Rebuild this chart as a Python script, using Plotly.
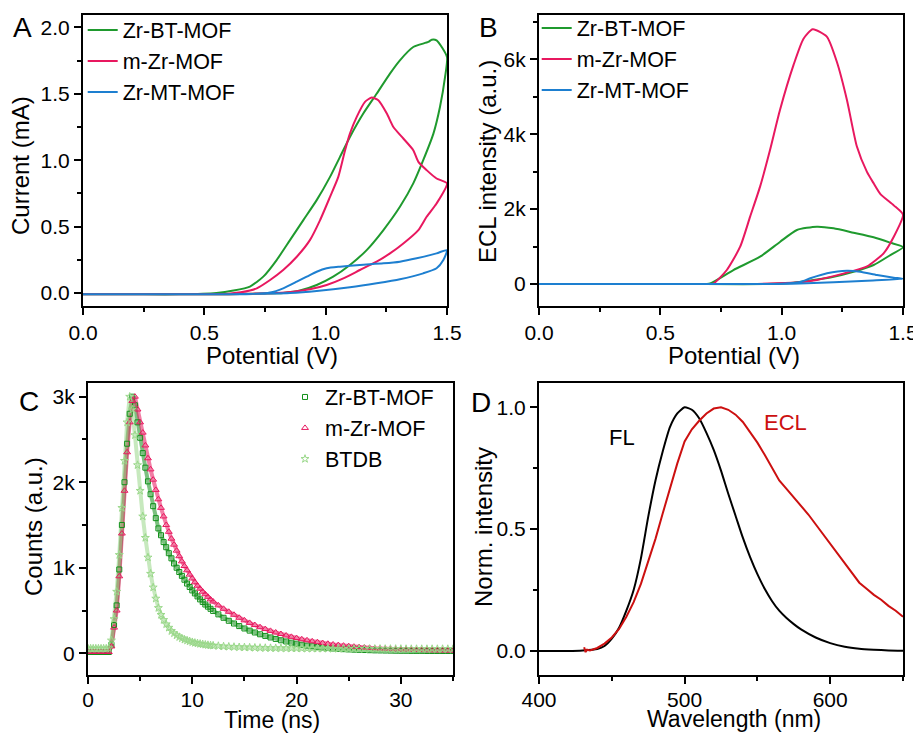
import numpy as np
import plotly.graph_objects as go

FONT = "Liberation Sans, Arial, Helvetica, sans-serif"
W, H = 921, 733
OFF = 8  # the page body offsets the figure by this many pixels

GREEN = "#1f9a2e"
PINK = "#e8185f"
BLUE = "#1d7fd0"
DKGREEN = "#12901a"
LTGREEN = "#9ad88a"
RED = "#cc1010"

# ---------------- Panel A: CV (potential V, current mA) ----------------
a_bt_v = [0, 0.2, 0.4, 0.6, 0.7, 0.8, 0.825, 0.894, 0.963, 1.031, 1.100, 1.169, 1.238, 1.306, 1.361,
          1.402, 1.444, 1.471, 1.492, 1.5,
          1.457, 1.437, 1.423, 1.361, 1.306, 1.265, 1.21, 1.155, 1.100, 1.059, 1.018, 0.963, 0.908,
          0.853, 0.798, 0.743, 0.688, 0.62, 0.55, 0.4, 0.2, 0.0]
a_bt_i = [-0.01, -0.01, -0.01, -0.01, -0.005, -0.002, 0.0, 0.018, 0.060, 0.123, 0.211, 0.323, 0.474, 0.649, 0.825,
          1.0, 1.20, 1.40, 1.627, 1.777,
          1.902, 1.907, 1.89, 1.852, 1.752, 1.652, 1.50, 1.351, 1.175, 1.025, 0.874, 0.699, 0.549,
          0.398, 0.248, 0.123, 0.048, 0.018, 0.0, -0.01, -0.01, -0.01]

a_m_v = [0, 0.2, 0.4, 0.6, 0.7, 0.80, 0.867, 0.935, 1.004, 1.073, 1.141, 1.21, 1.265, 1.32, 1.382, 1.416, 1.457, 1.5,
         1.457, 1.416, 1.382, 1.361, 1.32, 1.279, 1.252, 1.217, 1.19, 1.162, 1.128, 1.100, 1.080, 1.052, 1.018,
         0.977, 0.935, 0.881, 0.825, 0.771, 0.716, 0.688, 0.65, 0.6, 0.4, 0.2, 0]
a_m_i = [-0.01, -0.01, -0.01, -0.01, -0.005, 0.0, 0.01, 0.028, 0.06, 0.11, 0.173, 0.236, 0.298, 0.373, 0.474, 0.574, 0.674, 0.825,
         0.862, 0.925, 0.987, 1.075, 1.163, 1.25, 1.351, 1.451, 1.471, 1.439, 1.326, 1.20, 1.075, 0.874, 0.724,
         0.549, 0.398, 0.273, 0.173, 0.098, 0.035, 0.018, 0.005, -0.005, -0.01, -0.01, -0.01]

a_mt_v = [0, 0.2, 0.4, 0.6, 0.75, 0.853, 0.963, 1.1, 1.21, 1.306, 1.402, 1.457, 1.485, 1.5,
          1.457, 1.375, 1.306, 1.238, 1.141, 1.059, 1.004, 0.963, 0.922, 0.881, 0.825, 0.771, 0.7, 0.6, 0.4, 0.2, 0]
a_mt_i = [-0.01, -0.01, -0.01, -0.01, -0.005, 0.0, 0.015, 0.043, 0.073, 0.103, 0.148, 0.186, 0.248, 0.323,
          0.298, 0.261, 0.236, 0.223, 0.211, 0.198, 0.186, 0.16, 0.123, 0.085, 0.035, 0.003, -0.008, -0.01, -0.01, -0.01, -0.01]

# ---------------- Panel B: ECL-potential ----------------
b_bt_v = [0, 0.3, 0.6, 0.66, 0.705, 0.801, 0.911, 0.994, 1.063, 1.145, 1.214, 1.296, 1.379, 1.448, 1.5,
          1.448, 1.379, 1.296, 1.214, 1.131, 1.049, 0.94, 0.6, 0.3, 0]
b_bt_i = [0, 0, 0, 0, 15, 374, 729, 1130, 1442, 1530, 1487, 1370, 1247, 1103, 985,
          774, 507, 329, 196, 107, 36, 0, 0, 0, 0]

b_m_v = [0, 0.3, 0.6, 0.69, 0.718, 0.774, 0.829, 0.870, 0.911, 0.952, 0.993, 1.049, 1.09, 1.128, 1.186, 1.227,
         1.269, 1.31, 1.351, 1.379, 1.407, 1.462, 1.5,
         1.462, 1.42, 1.352, 1.283, 1.214, 1.145, 1.076, 0.98, 0.87, 0.6, 0.3, 0]
b_m_i = [0, 0, 0, 0, 10, 374, 996, 1798, 2600, 3579, 4647, 5850, 6550, 6801, 6605, 5940,
         4914, 3670, 3000, 2688, 2400, 2100, 1850,
         1263, 820, 470, 330, 210, 110, 50, 18, 0, 0, 0, 0]

b_mt_v = [0, 0.3, 0.6, 0.9, 0.98, 1.104, 1.214, 1.352, 1.5,
          1.462, 1.393, 1.324, 1.269, 1.187, 1.118, 1.076, 1.0, 0.9, 0.6, 0.3, 0]
b_mt_i = [0, 0, 0, 0, 0, 18, 45, 89, 138,
          169, 240, 329, 356, 285, 152, 56, 10, 0, 0, 0, 0]

# ---------------- Panel C: TRPL decay ----------------
c_time = [round(0.25 * k, 2) for k in range(0, 49)] + [round(12.5 + 0.5 * k, 2) for k in range(0, 46)]

c_bt = [15] * 9 + [
    100, 330, 560, 980, 1500, 2000, 2450, 2800, 3000, 2900,
    2700, 2520, 2340, 2170, 2010, 1860, 1720, 1580, 1460, 1380,
    1300, 1240, 1170, 1110, 1050, 1000, 950, 905, 860, 815,
    775, 735, 700, 665, 630, 600, 570, 545, 520, 495,
    455, 415, 380, 348, 318, 290, 265, 243, 222, 203,
    185, 168, 152, 138, 124, 112, 100, 90, 82, 74,
    67, 61, 56, 52, 48, 45, 42, 40, 38, 36,
    34, 33, 32, 31, 30, 29, 29, 28, 28, 28,
    27, 27, 27, 27, 27, 27]

c_m = [15] * 9 + [
    80, 300, 500, 900, 1400, 1900, 2350, 2700, 2950, 3000,
    2850, 2700, 2580, 2430, 2280, 2150, 2030, 1910, 1800, 1700,
    1600, 1500, 1420, 1340, 1270, 1200, 1135, 1075, 1020, 970,
    920, 875, 830, 790, 755, 720, 690, 660, 630, 605,
    560, 520, 485, 450, 415, 385, 355, 330, 305, 283,
    262, 243, 225, 208, 192, 178, 164, 152, 140, 130,
    120, 111, 103, 96, 89, 83, 77, 72, 67, 62,
    58, 55, 52, 49, 46, 44, 42, 40, 38, 37,
    36, 35, 34, 33, 32, 31]

c_btdb = [55] * 8 + [60] + [
    150, 400, 720, 1150, 1700, 2250, 2700, 3000, 2850, 2550,
    2200, 1900, 1600, 1350, 1120, 930, 770, 640, 530, 450,
    390, 340, 300, 260, 235, 210, 190, 175, 160, 150,
    140, 130, 122, 116, 110, 105, 100, 96, 92, 90,
    85, 80, 77, 74, 71, 69, 67, 65, 63, 62,
    61, 60, 59, 58, 58, 57, 57, 56, 56, 55,
    55, 55, 54, 54, 54, 53, 53, 53, 52, 52,
    52, 52, 51, 51, 51, 51, 50, 50, 50, 50,
    50, 50, 50, 50, 50, 50]

# ---------------- Panel D: normalized spectra ----------------
d_fl_wl = [400, 410, 420, 430, 440, 445, 450, 455, 460, 465, 470, 475, 480, 485, 490, 495, 500, 505, 510,
           515, 520, 525, 530, 535, 540, 545, 550, 555, 560, 565, 570, 575, 580, 590, 600, 610, 620, 630, 640, 650]
d_fl = [0, 0, 0, 0.002, 0.008, 0.02, 0.05, 0.095, 0.165, 0.25, 0.38, 0.55, 0.70, 0.82, 0.92, 0.975, 1.0, 0.99, 0.955,
        0.895, 0.825, 0.74, 0.645, 0.555, 0.465, 0.385, 0.315, 0.255, 0.205, 0.165, 0.135, 0.11, 0.088, 0.055, 0.032,
        0.017, 0.009, 0.005, 0.002, 0.001]

d_ecl_wl = [431, 432, 433, 435, 440, 445, 450, 455, 460, 465, 470, 475, 480, 485, 490, 495, 500, 505, 510, 515,
            520, 525, 530, 535, 540, 545, 550, 555, 560, 565, 570, 575, 580, 585, 590, 595, 600, 605, 610, 615,
            620, 625, 630, 635, 640, 645, 650]
d_ecl = [0.015, -0.005, 0.005, 0.002, 0.012, 0.03, 0.055, 0.09, 0.14, 0.2, 0.275, 0.365, 0.46, 0.565, 0.67, 0.77,
         0.86, 0.91, 0.945, 0.975, 0.995, 1.0, 0.99, 0.97, 0.94, 0.9, 0.855, 0.805, 0.75, 0.7, 0.665, 0.63, 0.595,
         0.56, 0.52, 0.48, 0.44, 0.395, 0.355, 0.315, 0.28, 0.255, 0.23, 0.21, 0.185, 0.165, 0.14]

series_names_cv = ["Zr-BT-MOF", "m-Zr-MOF", "Zr-MT-MOF"]
series_names_c = ["Zr-BT-MOF", "m-Zr-MOF", "BTDB"]

fig = go.Figure()

# Panel A
for v, i, name, col in [(a_bt_v, a_bt_i, series_names_cv[0], GREEN),
                        (a_m_v, a_m_i, series_names_cv[1], PINK),
                        (a_mt_v, a_mt_i, series_names_cv[2], BLUE)]:
    fig.add_trace(go.Scatter(x=v, y=i, mode="lines", name=name,
                             line=dict(color=col, width=2, shape="spline", smoothing=0.6),
                             xaxis="x", yaxis="y", legend="legend", legendgroup="a" + name))
# Panel B
for v, i, name, col in [(b_bt_v, b_bt_i, series_names_cv[0], GREEN),
                        (b_m_v, b_m_i, series_names_cv[1], PINK),
                        (b_mt_v, b_mt_i, series_names_cv[2], BLUE)]:
    fig.add_trace(go.Scatter(x=v, y=i, mode="lines", name=name,
                             line=dict(color=col, width=2, shape="spline", smoothing=0.6),
                             xaxis="x2", yaxis="y2", legend="legend2", legendgroup="b" + name))
# Panel C: a soft band under the open markers
c_sets = [(c_bt, series_names_c[0], DKGREEN, "square-open", 5),
          (c_m, series_names_c[1], PINK, "triangle-up-open", 6),
          (c_btdb, series_names_c[2], LTGREEN, "star-open", 6)]
for y, name, col, sym, sz in c_sets:
    fig.add_trace(go.Scatter(x=c_time, y=y, mode="lines", line=dict(color=col, width=4),
                             opacity=0.55, hoverinfo="skip", showlegend=False,
                             xaxis="x3", yaxis="y3"))
for y, name, col, sym, sz in c_sets:
    fig.add_trace(go.Scatter(x=c_time, y=y, mode="markers", name=name,
                             marker=dict(symbol=sym, size=sz, color=col, line=dict(width=1, color=col)),
                             xaxis="x3", yaxis="y3", legend="legend3", legendgroup="c" + name))
# Panel D
fig.add_trace(go.Scatter(x=d_fl_wl, y=d_fl, mode="lines", name="FL",
                         line=dict(color="black", width=2, shape="spline", smoothing=0.6),
                         xaxis="x4", yaxis="y4", showlegend=False))
fig.add_trace(go.Scatter(x=d_ecl_wl, y=d_ecl, mode="lines", name="ECL",
                         line=dict(color=RED, width=2),
                         xaxis="x4", yaxis="y4", showlegend=False))

TICKFONT = dict(family=FONT, size=21, color="black")


def ax(domain, rng, dtick, minor_dtick, tick0=0, fmt=None, anchor=None, standoff=0):
    d = dict(domain=domain, range=rng, anchor=anchor, automargin=False,
             showline=True, linecolor="black", linewidth=2,
             mirror=True, ticks="outside", ticklen=7, tickwidth=1.5, tickcolor="black",
             showgrid=False, zeroline=False, tickfont=TICKFONT, ticklabelstandoff=standoff,
             tickmode="linear", tick0=tick0, dtick=dtick,
             minor=dict(ticks="outside", ticklen=4, tickwidth=1.5, tickcolor="black",
                        dtick=minor_dtick, tick0=tick0, showgrid=False))
    if fmt:
        d["tickformat"] = fmt
    return d


def px(x):
    return (x - OFF) / W


def py(y):
    return 1 - (y - OFF) / H


def dx(a, b):
    return [px(a), px(b)]


def dy(top, bottom):
    return [py(bottom), py(top)]


LEG_FONT = 21.5


def legend_at(left, top):
    return dict(x=px(left), y=py(top), xanchor="left", yanchor="top", bgcolor="rgba(0,0,0,0)",
                font=dict(family=FONT, size=LEG_FONT, color="black"), traceorder="grouped", tracegroupgap=0)


fig.update_layout(
    width=W, height=H, margin=dict(l=0, r=0, t=0, b=0, autoexpand=False),
    paper_bgcolor="white", plot_bgcolor="white",
    font=dict(family=FONT, color="black"),
    xaxis=ax(dx(83, 447), [0, 1.5], 0.5, 0.25, fmt=".1f", anchor="y"),
    yaxis=ax(dy(15, 306), [-0.098, 2.093], 0.5, 0.25, fmt=".1f", anchor="x"),
    xaxis2=ax(dx(539, 903), [0, 1.5], 0.5, 0.25, fmt=".1f", anchor="y2"),
    yaxis2=ax(dy(15, 306), [-587, 7183], 2000, 1000, fmt="~s", anchor="x2"),
    xaxis3=ax(dx(88, 453), [0, 35], 10, 5, anchor="y3", standoff=-2),
    yaxis3=ax(dy(383, 675), [-254, 3160], 1000, 500, fmt="~s", anchor="x3"),
    xaxis4=ax(dx(539, 903), [400, 650], 100, 50, tick0=400, anchor="y4", standoff=-2),
    yaxis4=ax(dy(383, 675), [-0.099, 1.1], 0.5, 0.25, fmt=".1f", anchor="x4"),
    legend=legend_at(82.7, 9.5),
    legend2=legend_at(536.7, 7.5),
    legend3=legend_at(285, 376.5),
    showlegend=True,
)

ann = []


def text(x, y, s, size=24, color="black", angle=0):
    ann.append(dict(x=px(x), y=py(y), xref="paper", yref="paper", text=s, showarrow=False,
                    xanchor="center", yanchor="middle", textangle=angle,
                    font=dict(family=FONT, size=size, color=color)))


# panel letters
text(22, 27, "A", 28)
text(488, 27, "B", 28)
text(29, 401, "C", 28)
text(481, 402, "D", 28)
# axis titles
text(272, 355, "Potential (V)")
text(734, 355, "Potential (V)")
text(272, 720, "Time (ns)", size=23)
text(734, 719, "Wavelength (nm)", size=23)
text(20, 166, "Current (mA)", angle=-90)
text(487, 162, "ECL intensity (a.u.)", angle=-90)
text(33, 527, "Counts (a.u.)", angle=-90)
text(483, 527, "Norm. intensity", angle=-90)
fig.update_layout(annotations=ann)

# in-plot labels for panel D (data coordinates)
fig.add_annotation(x=456.8, y=0.878, xref="x4", yref="y4", text="FL", showarrow=False,
                   font=dict(family=FONT, size=22, color="black"))
fig.add_annotation(x=569, y=0.936, xref="x4", yref="y4", text="ECL", showarrow=False,
                   font=dict(family=FONT, size=22, color=RED))

fig.write_html("out.html")
